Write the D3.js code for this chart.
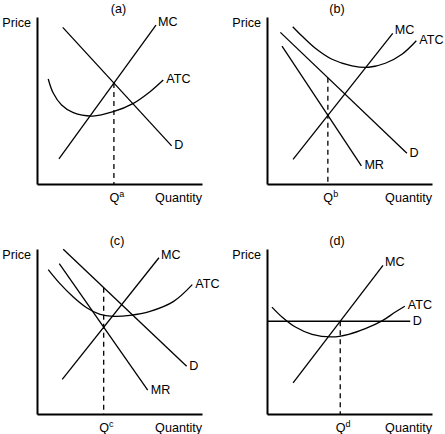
<!DOCTYPE html>
<html>
<head>
<meta charset="utf-8">
<script src="https://cdn.jsdelivr.net/npm/d3@7"></script>
<style>
  html, body { margin: 0; padding: 0; background: #fff; }
  svg { display: block; }
  text { font-family: "Liberation Sans", Arial, Helvetica, sans-serif; fill: #000; }
</style>
</head>
<body>
<svg id="chart" width="445" height="434"></svg>
<script>
// ---------- DATA (quantity 0-100, price 0-100 in each panel) ----------
const panelIds = ["a", "b", "c", "d"];
const axisLabels = ["Price", "Quantity"];

// Panel (a)
const aMC  = [[13.3, 15.0], [72.1, 95.2]];
const aD   = [[15.6, 93.8], [81.6, 22.8]];
const aATC = [[6.8, 62.9], [9.9, 54.3], [14.9, 47.3], [22.0, 42.7], [33.8, 40.7],
              [46.2, 43.3], [58.4, 48.3], [68.5, 55.3], [76.5, 62.3]];

// Panel (b)
const bMC  = [[15.8, 14.8], [76.2, 90.2]];
const bD   = [[8.1, 90.8], [84.8, 18.4]];
const bMR  = [[9.1, 82.6], [57.2, 10.8]];
const bATC = [[15.6, 94.2], [21.2, 88.6], [29.3, 81.3], [39.4, 74.7], [51.5, 70.8],
              [61.6, 69.9], [71.7, 72.3], [81.8, 77.7], [90.5, 85.8]];

// Panel (c)
const cMC  = [[15.3, 21.0], [73.9, 94.7]];
const cD   = [[15.9, 99.8], [90.7, 28.9]];
const cMR  = [[13.5, 91.1], [67.1, 14.4]];
const cATC = [[6.8, 87.5], [13.9, 79.0], [22.0, 70.9], [30.1, 64.4], [38.2, 60.4],
              [46.2, 59.2], [56.4, 59.8], [68.5, 62.2], [82.6, 68.1], [94.1, 78.4]];

// Panel (d)
const dMC  = [[15.8, 18.8], [70.3, 90.1]];
const dD   = [[0, 56.2], [86.8, 56.2]];
const dATC = [[3.0, 64.8], [9.1, 58.8], [17.2, 52.7], [27.3, 48.3], [39.4, 46.7],
              [49.5, 48.3], [59.6, 51.7], [69.7, 56.4], [77.8, 61.8], [83.5, 65.3]];

const panelCurves = {
  a: { MC: aMC, ATC: aATC, D: aD },
  b: { MC: bMC, ATC: bATC, D: bD, MR: bMR },
  c: { MC: cMC, ATC: cATC, D: cD, MR: cMR },
  d: { MC: dMC, ATC: dATC, D: dD }
};

// ---------- LAYOUT ----------
const layout = {
  a: { ox: 37,  oy: 184, w: 165, h: 167, titleDx: 81.5 },
  b: { ox: 267, oy: 184, w: 165, h: 167, titleDx: 70 },
  c: { ox: 37,  oy: 414, w: 165, h: 165, titleDx: 80 },
  d: { ox: 267, oy: 414, w: 165, h: 165, titleDx: 70 }
};
const labelOffset = { MC: [2, 1], ATC: [3, 3], D: [2.5, 3.5], MR: [3, 3.5] };
const FONT = 12.6;

const svg = d3.select("#chart");

function valueAt(seg, x) {
  const [[x0, y0], [x1, y1]] = seg;
  return y0 + (y1 - y0) * (x - x0) / (x1 - x0);
}
function intersectX(s1, s2) {
  const m1 = (s1[1][1] - s1[0][1]) / (s1[1][0] - s1[0][0]);
  const m2 = (s2[1][1] - s2[0][1]) / (s2[1][0] - s2[0][0]);
  const b1 = s1[0][1] - m1 * s1[0][0];
  const b2 = s2[0][1] - m2 * s2[0][0];
  return (b2 - b1) / (m1 - m2);
}

panelIds.forEach(id => {
  const L = layout[id];
  const curves = panelCurves[id];
  const x = d3.scaleLinear().domain([0, 100]).range([0, L.w]);
  const y = d3.scaleLinear().domain([0, 100]).range([L.h, 0]);
  const g = svg.append("g").attr("transform", `translate(${L.ox},${L.oy - L.h})`);

  // axes
  const xAxis = g.append("g").attr("transform", `translate(0,${L.h})`)
    .call(d3.axisBottom(x).tickValues([]).tickSizeOuter(0));
  const yAxis = g.append("g")
    .call(d3.axisLeft(y).tickValues([]).tickSizeOuter(0));
  [xAxis, yAxis].forEach(a => a.select(".domain").attr("stroke", "#000").attr("stroke-width", 2));

  // curves
  const straight = d3.line().x(d => x(d[0])).y(d => y(d[1]));
  const smooth = d3.line().x(d => x(d[0])).y(d => y(d[1])).curve(d3.curveCatmullRom.alpha(0.5));
  Object.entries(curves).forEach(([name, pts]) => {
    g.append("path")
      .attr("d", (name === "ATC" ? smooth : straight)(pts))
      .attr("fill", "none").attr("stroke", "#000").attr("stroke-width", 1.3);
    const end = pts[pts.length - 1];
    const off = labelOffset[name];
    g.append("text")
      .attr("x", x(end[0]) + off[0]).attr("y", y(end[1]) + off[1])
      .attr("font-size", FONT).text(name);
  });

  // quantity where MC meets MR (or D), price read on D
  const q = intersectX(curves.MC, curves.MR || curves.D);
  const p = valueAt(curves.D, q);
  g.append("line")
    .attr("x1", x(q)).attr("x2", x(q)).attr("y1", y(p)).attr("y2", y(0))
    .attr("stroke", "#000").attr("stroke-width", 1.3).attr("stroke-dasharray", "5,4");

  // Q label
  const ql = g.append("text").attr("x", x(q) - 4.5).attr("y", L.h + 17.5)
    .attr("font-size", FONT);
  ql.append("tspan").text("Q");
  ql.append("tspan").attr("font-size", 9).attr("dy", -4.5).text(id);

  // axis titles
  g.append("text").attr("x", -6).attr("y", 10)
    .attr("text-anchor", "end").attr("font-size", FONT).text(axisLabels[0]);
  g.append("text").attr("x", L.w).attr("y", L.h + 17.5)
    .attr("text-anchor", "end").attr("font-size", FONT).text(axisLabels[1]);

  // panel title
  g.append("text").attr("x", L.titleDx).attr("y", -4.5)
    .attr("text-anchor", "middle").attr("font-size", FONT).text(`(${id})`);
});
</script>
</body>
</html>
